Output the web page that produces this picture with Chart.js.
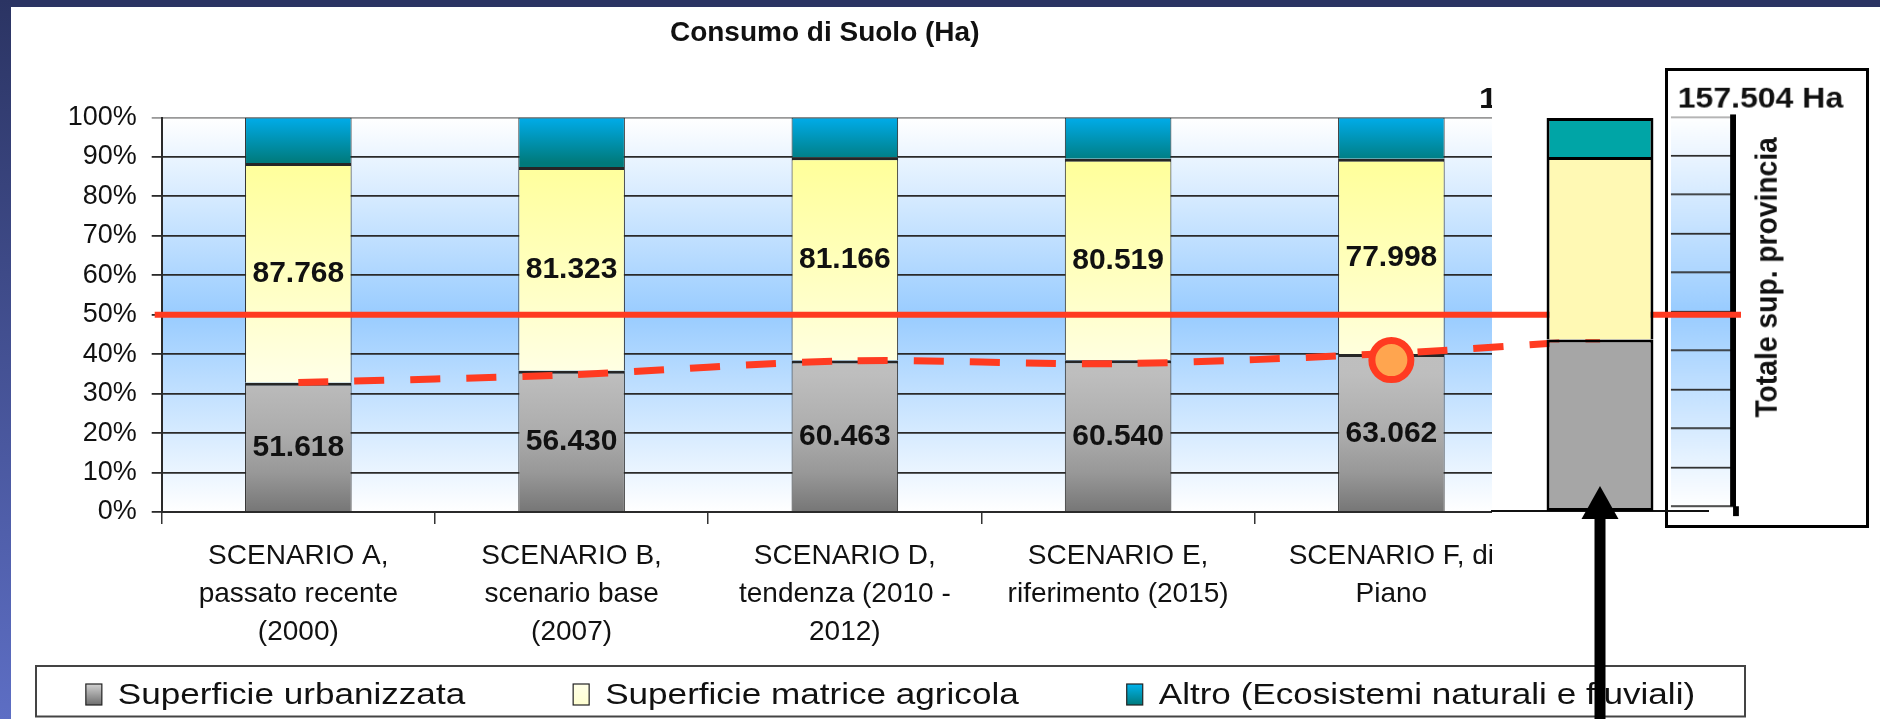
<!DOCTYPE html>
<html>
<head>
<meta charset="utf-8">
<script src="https://cdn.jsdelivr.net/npm/chart.js@4.4.1/dist/chart.umd.min.js"></script>
<style>
  html, body { margin: 0; padding: 0; background: #fff; }
  body { width: 1880px; height: 719px; position: relative; overflow: hidden; }
  canvas { position: absolute; left: 0; top: 0; }
  #boxChart { left: 1665px; top: 68px; border: 3px solid #000; background: #fff; }
  .frame-top { position: absolute; left: 0; top: 0; width: 1880px; height: 7px; background: #2b3463; }
  .frame-left { position: absolute; left: 0; top: 0; width: 11px; height: 719px; background: linear-gradient(#2b3463, #5d6ec4); }
</style>
</head>
<body>
<canvas id="boxChart" width="204" height="460"></canvas>
<canvas id="mainChart" width="1880" height="719"></canvas>
<canvas id="totalChart" width="1880" height="719"></canvas>
<div class="frame-top"></div>
<div class="frame-left"></div>
<script>
Chart.defaults.font.family = '"Liberation Sans", Arial, sans-serif';
Chart.defaults.color = '#111';

// --- data (Ha) ---
const titolo = 'Consumo di Suolo (Ha)';
const scenari = [
  ['SCENARIO A,', 'passato recente', '(2000)'],
  ['SCENARIO B,', 'scenario base', '(2007)'],
  ['SCENARIO D,', 'tendenza (2010 -', '2012)'],
  ['SCENARIO E,', 'riferimento (2015)'],
  ['SCENARIO F, di', 'Piano']
];
const urbanizzata = [51618, 56430, 60463, 60540, 63062];
const agricola = [87768, 81323, 81166, 80519, 77998];
const altro = [18118, 19751, 15875, 16445, 16444];

// total provincia bar (estimated split of 157.504 Ha)
const totaleLabels = ['Totale sup. provincia'];
const totaleUrb = [68700];
const totaleAgr = [73200];
const totaleAltro = [15600];
const totaleText = '157.504 Ha';

// red annotations (% of surface)
const trendPct = [32.8, 34.8, 38.3, 37.6, 40.2];
const sogliaPct = 50;
const pianoIndex = 4;
const pianoPct = 38.5;

const RED = '#ff3b21';
const FONT = '"Liberation Sans", Arial, sans-serif';

const totals = urbanizzata.map((v, i) => v + agricola[i] + altro[i]);
const pct = arr => arr.map((v, i) => v / totals[i] * 100);
const totSum = totaleUrb[0] + totaleAgr[0] + totaleAltro[0];
const totPct = arr => arr.map(v => v / totSum * 100);
const fmt = v => String(v).replace(/\B(?=(\d{3})+(?!\d))/g, '.');

function yGradient(chart, stops) {
  const a = chart.chartArea;
  if (!a) return stops[0][1];
  const g = chart.ctx.createLinearGradient(0, a.bottom, 0, a.top);
  stops.forEach(s => g.addColorStop(s[0], s[1]));
  return g;
}

function wideText(ctx, text, x, y, sx) {
  ctx.save();
  ctx.translate(x, y);
  ctx.scale(sx, 1);
  ctx.fillText(text, 0, 0);
  ctx.restore();
}

const grayStops = [[0, '#767676'], [0.1, '#989898'], [0.2, '#acacac'], [0.35, '#bebebe'], [1, '#c6c6c6']];
const yellowStops = [[0, '#ffffee'], [0.35, '#ffffe4'], [0.6, '#ffffc0'], [0.9, '#ffff99'], [1, '#ffff99']];
const tealStops = [[0, '#007878'], [0.885, '#007a7b'], [1, '#00acea']];

const plotBg = {
  id: 'plotBg',
  beforeDraw(chart) {
    const {ctx, chartArea: a} = chart;
    ctx.save();
    ctx.fillStyle = yGradient(chart, [[0, '#ffffff'], [0.5, '#99ccff'], [1, '#ffffff']]);
    ctx.fillRect(a.left, a.top, a.right - a.left, a.bottom - a.top);
    ctx.restore();
  }
};

// chart title, centred where the original slide had it
const slideTitle = {
  id: 'slideTitle',
  afterDraw(chart) {
    const ctx = chart.ctx;
    ctx.save();
    ctx.font = 'bold 28px ' + FONT;
    ctx.fillStyle = '#111';
    ctx.textAlign = 'center';
    ctx.textBaseline = 'middle';
    ctx.fillText(titolo, chart.chartArea.left + 663, 33);
    ctx.restore();
  }
};

// value labels in the gray and yellow segments
const barLabels = {
  id: 'barLabels',
  afterDatasetDraw(chart, args) {
    if (args.index > 1) return;
    const raw = args.index === 0 ? urbanizzata : agricola;
    const ctx = chart.ctx;
    ctx.save();
    ctx.font = 'bold 30px ' + FONT;
    ctx.fillStyle = '#111';
    ctx.textAlign = 'center';
    ctx.textBaseline = 'middle';
    args.meta.data.forEach((bar, i) => ctx.fillText(fmt(raw[i]), bar.x, (bar.y + bar.base) / 2 + 1));
    ctx.restore();
  }
};

// white patch pasted over the right end of the chart, under the red lines
const cover = {left: 1492, top: 60, right: 1665, bottom: 660};
const coverPatch = {
  id: 'coverPatch',
  beforeDatasetDraw(chart, args) {
    if (args.meta.label !== 'soglia') return;
    const ctx = chart.ctx;
    ctx.save();
    ctx.font = 'bold 29px ' + FONT;
    ctx.fillStyle = '#111';
    ctx.textBaseline = 'middle';
    wideText(ctx, totaleText, 1479, 100, 1.137);
    ctx.fillStyle = '#fff';
    ctx.fillRect(cover.left, cover.top, cover.right - cover.left, cover.bottom - cover.top);
    ctx.restore();
  }
};

const legendBox = {left: 36, top: 666, right: 1745, bottom: 716.5};
const boxLegend = {
  id: 'boxLegend',
  afterDraw(chart) {
    const ctx = chart.ctx;
    const b = legendBox;
    ctx.save();
    ctx.fillStyle = '#fff';
    ctx.fillRect(b.left, b.top, b.right - b.left, b.bottom - b.top);
    ctx.strokeStyle = '#444';
    ctx.lineWidth = 2;
    ctx.strokeRect(b.left, b.top, b.right - b.left, b.bottom - b.top);
    ctx.font = '30px ' + FONT;
    const sx = 1.17, markGap = 32, itemGap = 108;
    const labels = chart.data.datasets.slice(0, 3).map(d => d.label);
    const stops = [[[0, '#6e6e6e'], [1, '#d2d2d2']], [[0, '#ffffd0'], [1, '#ffffe8']], [[0, '#007a7c'], [1, '#00b4ee']]];
    const widths = labels.map(t => ctx.measureText(t).width * sx);
    const total = widths.reduce((s, w) => s + w + markGap, 0) + itemGap * (labels.length - 1);
    let x = (b.left + b.right) / 2 - total / 2;
    const cy = b.top + 28.5;
    labels.forEach((t, i) => {
      const g = ctx.createLinearGradient(0, cy + 10.5, 0, cy - 10.5);
      stops[i].forEach(s => g.addColorStop(s[0], s[1]));
      ctx.fillStyle = g;
      ctx.fillRect(x, cy - 10.5, 16, 21);
      ctx.lineWidth = 1.2;
      ctx.strokeStyle = '#222';
      ctx.strokeRect(x, cy - 10.5, 16, 21);
      ctx.fillStyle = '#111';
      ctx.textBaseline = 'middle';
      wideText(ctx, t, x + markGap, cy + 1, sx);
      x += markGap + widths[i] + itemGap;
    });
    ctx.restore();
  }
};

// --- total bar on the right, with the arrow ---
const arrow = {
  id: 'arrow',
  afterDraw(chart) {
    const ctx = chart.ctx;
    const bar = chart.getDatasetMeta(0).data[0];
    const tip = chart.chartArea.bottom - 25;
    const base = tip + 33;
    ctx.save();
    ctx.fillStyle = '#000';
    ctx.beginPath();
    ctx.moveTo(bar.x, tip);
    ctx.lineTo(bar.x + 18.5, base);
    ctx.lineTo(bar.x - 18.5, base);
    ctx.closePath();
    ctx.fill();
    ctx.fillRect(bar.x - 5.5, base - 1, 11, chart.height - base + 1);
    ctx.restore();
  }
};

const total = new Chart(document.getElementById('totalChart'), {
  type: 'bar',
  data: {
    labels: totaleLabels,
    datasets: [
      { data: totPct(totaleUrb), backgroundColor: '#a6a6a6', borderWidth: {top: 3, left: 3, right: 3, bottom: 3} },
      { data: totPct(totaleAgr), backgroundColor: '#fff9b4', borderWidth: {top: 3, left: 3, right: 3, bottom: 0} },
      { data: totPct(totaleAltro), backgroundColor: '#00a5a6', borderWidth: {top: 3, left: 3, right: 3, bottom: 0} }
    ].map(d => Object.assign(d, { borderColor: '#000', borderSkipped: false, grouped: false,
                                  barPercentage: 0.495, categoryPercentage: 1 }))
  },
  options: {
    responsive: false, animation: false, devicePixelRatio: 1,
    layout: { padding: { left: 1492, right: 172, top: 118, bottom: 208 } },
    plugins: { legend: { display: false }, tooltip: { enabled: false } },
    scales: {
      x: { stacked: true, grid: { display: false }, ticks: { display: false },
           border: { color: '#111', width: 2 }, afterFit: s => { s.height = 0; } },
      y: { stacked: true, display: false, min: 0, max: 100 }
    }
  },
  plugins: [arrow]
});

// --- framed "Totale sup. provincia" box ---
const boxText = {
  id: 'boxText',
  afterDraw(chart) {
    const ctx = chart.ctx;
    const s = chart.scales.y;
    ctx.save();
    ctx.fillStyle = '#000';
    ctx.fillRect(s.left, chart.chartArea.bottom, s.options.border.width, 10);
    ctx.fillStyle = '#111';
    ctx.font = 'bold 29px ' + FONT;
    ctx.textBaseline = 'middle';
    wideText(ctx, totaleText, 10, 29, 1.137);
    ctx.font = 'bold 32px ' + FONT;
    ctx.textAlign = 'center';
    ctx.textBaseline = 'alphabetic';
    ctx.translate(112, 209);
    ctx.rotate(-Math.PI / 2);
    ctx.scale(0.894, 1);
    ctx.fillText(totaleLabels[0], 0, 0);
    ctx.restore();
  }
};

const boxCanvas = document.getElementById('boxChart');
const box = new Chart(boxCanvas, {
  type: 'bar',
  data: { labels: totaleLabels, datasets: [] },
  options: {
    responsive: false, animation: false, devicePixelRatio: 1,
    layout: { padding: { left: 3, right: 137, top: 46.5, bottom: 19 } },
    plugins: { legend: { display: false }, tooltip: { enabled: false } },
    scales: {
      x: { display: false },
      y: { position: 'right', min: 0, max: 100,
           ticks: { display: false, stepSize: 10 },
           grid: { drawTicks: false, lineWidth: 1.8, color: c => c.tick && c.tick.value === 100 ? '#aaa' : '#2a2a2a' },
           border: { color: '#000', width: 6 },
           afterFit: s => { s.width = 0; } }
    }
  },
  plugins: [plotBg, boxText]
});

// --- main chart ---
const main = new Chart(document.getElementById('mainChart'), {
  type: 'bar',
  data: {
    labels: scenari,
    datasets: [
      { label: 'Superficie urbanizzata', data: pct(urbanizzata),
        backgroundColor: c => yGradient(c.chart, grayStops), borderWidth: {top: 3, left: 1, right: 1, bottom: 0} },
      { label: 'Superficie matrice agricola', data: pct(agricola),
        backgroundColor: c => yGradient(c.chart, yellowStops), borderWidth: {top: 3, left: 1, right: 1, bottom: 0} },
      { label: 'Altro (Ecosistemi naturali e fluviali)', data: pct(altro),
        backgroundColor: c => yGradient(c.chart, tealStops), borderWidth: {top: 1, left: 1, right: 1, bottom: 0} }
    ].map(d => Object.assign(d, { borderColor: '#262626', barPercentage: 0.39, categoryPercentage: 1,
                                  grouped: false, xAxisID: 'x', yAxisID: 'y', order: 3 }))
    .concat([
      { type: 'line', label: 'soglia', data: [], xAxisID: 'xl', yAxisID: 'yl',
        borderColor: RED, borderWidth: 6, pointRadius: 0, clip: false, order: 2 },
      { type: 'line', label: 'trend', data: trendPct.map((v, i) => ({x: i, y: v})), xAxisID: 'xl', yAxisID: 'yl',
        borderColor: RED, borderWidth: 7, borderDash: [30, 26], tension: 0.3, pointRadius: 0, clip: false, order: 1 },
      { type: 'line', label: 'piano', data: [{x: pianoIndex, y: pianoPct}], xAxisID: 'xl', yAxisID: 'yl',
        showLine: false, pointRadius: 19.5, pointBorderWidth: 7, pointBackgroundColor: '#ffa54f',
        pointBorderColor: RED, clip: false, order: 0 }
    ])
  },
  options: {
    responsive: false, animation: false, devicePixelRatio: 1,
    layout: { padding: { left: 61.7, right: 352, top: 117.5, bottom: 67 } },
    plugins: { legend: { display: false }, tooltip: { enabled: false }, title: { display: false } },
    scales: {
      x: { type: 'category', stacked: true, offset: true,
           grid: { drawOnChartArea: false, offset: true, tickLength: 12, color: '#333', lineWidth: 1.5 },
           border: { color: '#2a2a2a', width: 2 },
           ticks: { font: { size: 28, lineHeight: 1.34 }, padding: 14, color: '#111', maxRotation: 0, autoSkip: false },
           afterFit: s => { s.height = 140; } },
      y: { stacked: true, min: 0, max: 100,
           ticks: { stepSize: 10, callback: v => v + '%', font: { size: 27 }, padding: 15, color: '#111' },
           grid: { lineWidth: 1.8, tickLength: 10, color: c => c.tick && c.tick.value === 100 ? '#999' : '#2a2a2a' },
           border: { color: '#2a2a2a', width: 2 },
           afterFit: s => { s.width = 100; } },
      xl: { type: 'linear', display: false, offset: false, min: -0.5, max: 4.5 },
      yl: { type: 'linear', display: false, offset: false, min: 0, max: 100 }
    }
  },
  plugins: [plotBg, barLabels, coverPatch, boxLegend, slideTitle]
});

// join the red lines to the total bar and the framed box
const xl = main.scales.xl;
const barX = total.getDatasetMeta(0).data[0].x;
const boxEdge = boxCanvas.offsetLeft + boxCanvas.clientLeft + box.scales.y.left + box.scales.y.options.border.width;
main.data.datasets[4].data.push({x: xl.getValueForPixel(barX), y: totPct(totaleUrb)[0]});
main.data.datasets[3].data = [
  {x: xl.getValueForPixel(main.chartArea.left - 7), y: sogliaPct},
  {x: xl.getValueForPixel(boxEdge), y: sogliaPct}
];
main.update('none');
</script>
</body>
</html>
